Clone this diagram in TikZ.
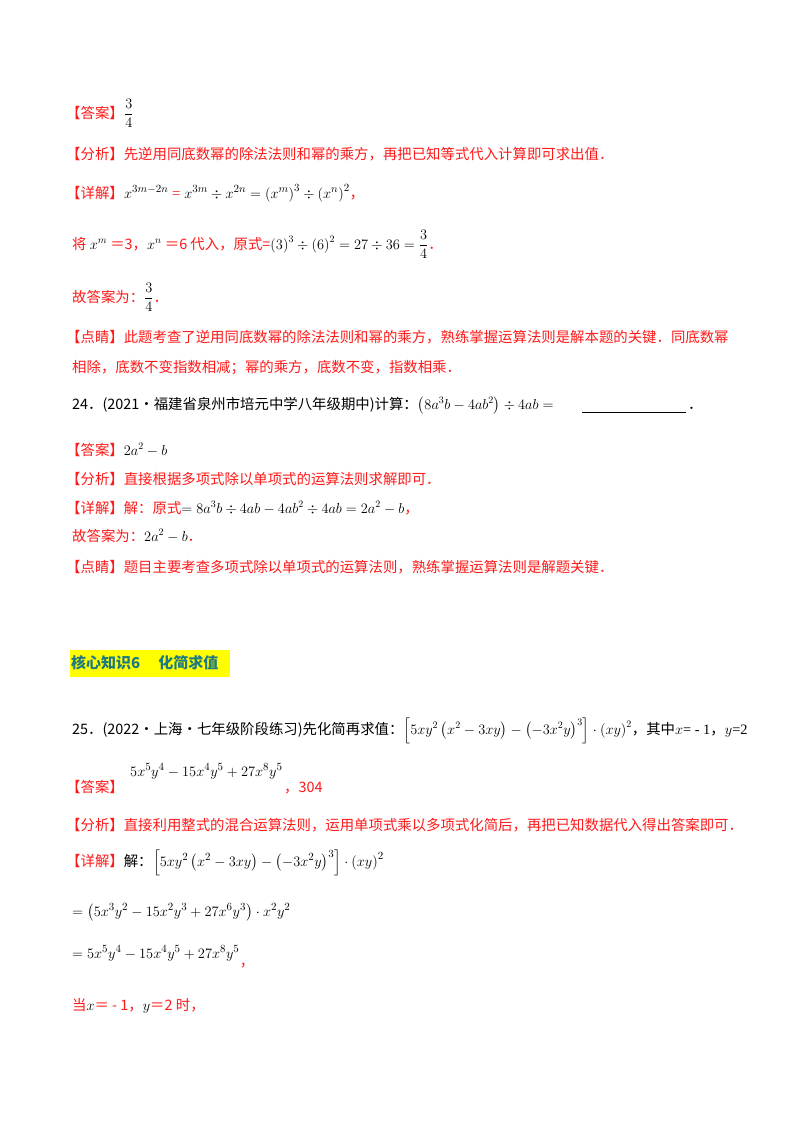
\documentclass[tikz,border=0pt]{standalone}
\usepackage{amsmath}
\usepackage{fontspec}
\setmainfont{Liberation Serif}
\newfontfamily\cjk{Noto Sans CJK SC}
\definecolor{rd}{HTML}{FF1A1A}
\definecolor{tl}{HTML}{1F7A80}
\definecolor{yl}{HTML}{FFFF00}
\begin{document}
\begin{tikzpicture}[x=1pt,y=-1pt,
  t/.style={anchor=base west,inner sep=0pt,font=\fontsize{14.4}{17}\selectfont\cjk},
  r/.style={t,text=rd},
  m/.style={anchor=base west,inner sep=0pt,font=\fontsize{15}{17}\selectfont}]
\useasboundingbox[fill=white] (0,0) rectangle (800,1132);
\node[r] (a1) at (66,118) {【答案】};
\node[m] (a1m) at (a1.base east) {$\dfrac{3}{4}$};
\node[r] (f1) at (66,159) {【分析】先逆用同底数幂的除法法则和幂的乘方，再把已知等式代入计算即可求出值．};
\node[r] (x1) at (66,198) {【详解】};
\node[m] (x1m) at (x1.base east) {$x^{3m-2n}$ \textcolor{rd}{=} $x^{3m}\div x^{2n}=\left(x^{m}\right)^{3}\div\left(x^{n}\right)^{2}$\textcolor{rd}{\cjk ，}};
\node[r] (j1) at (72,249) {将 \textcolor{black}{$x^m$} ＝3，\textcolor{black}{$x^n$} ＝6 代入，原式=\textcolor{black}{$\left(3\right)^{3}\div\left(6\right)^{2}=27\div36=\dfrac{3}{4}$}．};
\node[r] (g1) at (72,302) {故答案为：\textcolor{black}{$\dfrac{3}{4}$}．};
\node[r] (d1) at (66,342) {【点睛】此题考查了逆用同底数幂的除法法则和幂的乘方，熟练掌握运算法则是解本题的关键．同底数幂};
\node[r] (d1b) at (72,372) {相除，底数不变指数相减；幂的乘方，底数不变，指数相乘．};
\node[t] (q24) at (72,409) {24．(2021·福建省泉州市培元中学八年级期中)计算：\fontspec{Liberation Serif}$\left(8a^{3}b-4ab^{2}\right)\div4ab=$};
\coordinate (u1) at (582,412); \coordinate (u2) at (686,412);
\draw[line width=0.6pt] (u1) -- (u2);
\node[t] (p24) at (688,409) {．};
\node[r] (a2) at (66,455) {【答案】\textcolor{black}{$2a^{2}-b$}};
\node[r] (f2) at (66,484) {【分析】直接根据多项式除以单项式的运算法则求解即可．};
\node[r] (x2) at (66,513) {【详解】解：原式\textcolor{black}{$=8a^{3}b\div4ab-4ab^{2}\div4ab=2a^{2}-b$}，};
\node[r] (g2) at (72,541) {故答案为：\textcolor{black}{$2a^{2}-b$}．};
\node[r] (d2) at (66,572) {【点睛】题目主要考查多项式除以单项式的运算法则，熟练掌握运算法则是解题关键．};
\fill[yl] (70,650) rectangle (230,677);
\node[t,font=\fontsize{15}{17}\selectfont\cjk\bfseries,text=tl] (h) at (71,668) {核心知识6\hspace{18pt}化简求值};
\node[t] (q25) at (72,734) {25．(2022·上海·七年级阶段练习)先化简再求值：\fontspec{Liberation Serif}$\left[5xy^{2}\left(x^{2}-3xy\right)-\left(-3x^{2}y\right)^{3}\right]\cdot\left(xy\right)^{2}$\cjk，其中\fontspec{Liberation Serif}$x$= - 1\cjk，\fontspec{Liberation Serif}$y$=2};
\node[r] (a3) at (66,792) {【答案】};
\node[m] (a3m) at (130,776) {$5x^{5}y^{4}-15x^{4}y^{5}+27x^{8}y^{5}$};
\node[r] (a3b) at (284,792) {，304};
\node[r] (f3) at (66,830) {【分析】直接利用整式的混合运算法则，运用单项式乘以多项式化简后，再把已知数据代入得出答案即可．};
\node[r] (x3) at (66,866) {【详解】\textcolor{black}{解：}};
\node[m] (x3m) at (x3.base east) {$\left[5xy^{2}\left(x^{2}-3xy\right)-\left(-3x^{2}y\right)^{3}\right]\cdot\left(xy\right)^{2}$};
\node[m] (s1) at (72,916) {$=\left(5x^{3}y^{2}-15x^{2}y^{3}+27x^{6}y^{3}\right)\cdot x^{2}y^{2}$};
\node[m] (s2) at (72,958) {$=5x^{5}y^{4}-15x^{4}y^{5}+27x^{8}y^{5}$};
\node[r] (s2c) at (s2.base east) [yshift=-8pt] {，};
\node[r] (w) at (72,1010) {当\textcolor{black}{$x$}＝ - 1，\textcolor{black}{$y$}＝2 时，};
\end{tikzpicture}
\end{document}
